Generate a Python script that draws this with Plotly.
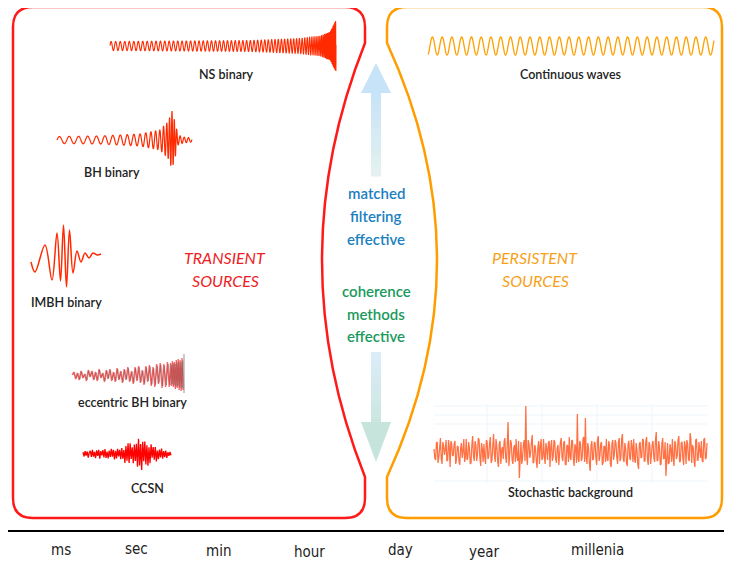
import numpy as np
import plotly.graph_objects as go

# ---------------- data ----------------
# NS binary chirp: instantaneous period and envelope (px) at key x positions
ns_x_keys = [110, 200, 260, 300, 320, 330, 336]
ns_period = [4.6, 4.2, 3.6, 2.8, 1.8, 1.0, 0.5]
ns_amp_x = [110, 250, 300, 320, 330, 334, 336]
ns_amp = [4.5, 5.5, 7.5, 10, 14, 22, 26]

# BH binary chirp + ringdown
bh_x_keys = [57, 100, 140, 160, 170, 175, 180, 192]
bh_period = [10, 8.5, 6, 4, 2.5, 2.2, 4, 4.5]
bh_amp_x = [57, 100, 140, 160, 168, 172, 175, 178, 183, 192]
bh_amp = [3.5, 4, 6, 10, 18, 29, 18, 5, 3, 2]

# IMBH binary extrema
imbh_x = [31, 35, 45, 52, 57, 60.5, 63.5, 66.5, 69.5, 73, 77, 81, 85, 89, 93, 97, 101]
imbh_y = [262, 272, 245, 280, 233, 281, 225, 287, 230, 273, 251, 262, 253, 258, 253, 255, 254]

# eccentric BH binary extrema offsets (px, positive = up)
ecc_vals = [0, 3, -4, 2, -5, 4, -3, 1, -6, 5, -2, 4, -5, 3, -6, 6, -3, 2, -7, 5,
            -4, 6, -6, 3, -7, 7, -5, 4, -8, 6, -5, 8, -7, 4, -9, 8, -6, 9, -8, 5,
            -10, 9, -7, 10, -11, 8, -12, 11, -9, 12, -13, 11, -12, 13, -12,
            12, -11, 14, -12, 13, -14, 15, -13, 16, -15, 15, -16, 17, -15]

# CCSN: noise samples and envelope
ccsn_noise = [0.6, -0.8, 0.9, -0.5, 0.7, -1.0, 0.4, 0.8, -0.7, 1.0, -0.6, 0.5, -0.9, 0.8, -0.4,
              0.9, -1.0, 0.6, -0.3, 0.8, -0.7, 1.0, -0.8, 0.5, -0.9, 0.7, -0.6, 1.0, -0.5, 0.8,
              -1.0, 0.6, -0.8, 0.9, -0.4, 0.7, -0.9, 1.0, -0.7, 0.5, -1.0, 0.8, -0.6, 0.9, -0.8,
              1.0, -0.5, 0.7, -1.0, 0.9, -0.6, 0.8, -0.9, 1.0, -0.7, 0.6, -1.0, 0.8, -0.5, 0.9,
              -0.8, 0.7, -1.0, 0.6, -0.9, 1.0, -0.4, 0.8, -0.7, 0.9, -1.0, 0.5, -0.8, 0.7, -0.6,
              1.0, -0.9, 0.6, -0.7, 0.8, -1.0, 0.5, -0.6, 0.7, -0.5]
ccsn_env_x = [83, 95, 110, 122, 128, 133, 140, 146, 152, 160, 171]
ccsn_env = [3, 4.5, 5, 6, 12, 9, 17, 13, 9, 6, 2.5]

# Continuous waves
cw_cycles = 29.3
cw_amp = 9

# Stochastic background samples (px, positive = up), two interleaved read-outs
stoch_a = [3, -8, 10, -5, 14, -12, 6, 2, -9, 12,
           -15, 8, -3, 11, -7, 5, -13, 9, 1, -10,
           13, -6, 4, -11, 16, -9, 7, -2, 12, -14,
           3, 8, -12, 10, -4, 15, -8, 18, -10, 6,
           -15, 11, 2, -7, 14, -11, 30, -3, 9, -12,
           7, 13, -9, -26, 10, -6, 12, 46, -13, 8,
           -1, 17, -10, 4, -16, 11, 6, -8, 13, -12,
           3, 9, -15, 12, -5, 10, -11, 7, -2, 14,
           -9, 11, -13, 6, 15, -8, 11, -14, 4, 38,
           -10, 8, -6, 15, 34, -12, 3, -19, 11, -7,
           9, -13, 16, -4, 10, -11, 5, 13, -9, 7,
           -15, 12, -2, 9, -12, 14, -6, 18, -10, 4,
           -14, 11, -8, 6, 13, -11, 2, -17, 10, -5,
           12, -9, 15, -13, 7, -3, 11, -10, 20, -8,
           5, -12, 14, -6, -24, 9, -11, 3, 13, -14,
           8, -4, 16, -9, 10, -13, 6, 12, -7, 19,
           -11, 4, -15, 13, -8, 2, 11, -10, 14, -6]
stoch_b = [-6, 9, -11, 4, -7, 10, -3, 12, -8, 5,
           11, -4, 8, -12, 6, -9, 3, -6, 13, -5,
           -8, 10, -12, 7, -4, 11, -9, 14, -6, 9,
           -10, -5, 12, -7, 9, -11, 6, -3, 13, -9,
           8, -12, 5, 10, -6, 9, -14, 12, -8, 4,
           -10, -5, 11, -7, -12, 8, -9, -4, 12, -6,
           10, -11, 7, -9, 5, -12, 13, -6, -4, 9,
           -8, 11, 5, -9, 12, -7, 4, -13, 10, -6,
           9, -12, 7, -10, -5, 12, -6, 8, -11, -7,
           11, -9, 13, -10, -6, 9, -12, 7, -8, 10,
           -6, 12, -9, 8, -13, 6, -10, -7, 11, -12,
           9, -8, 12, -6, 10, -9, 13, -7, 9, -11,
           8, -6, 12, -10, -7, 9, -12, 8, -6, 13,
           -9, 11, -7, 10, -12, 8, -6, 12, -9, 11,
           -13, 9, -7, 10, -8, -12, 8, -10, -6, 11,
           -7, 12, -10, 9, -6, 11, -12, 8, -9, 13,
           7, -10, 12, -8, 10, -6, -9, 12, -7, 9]

time_labels = ["ms", "sec", "min", "hour", "day", "year", "millenia"]

# ---------------- layout placements ----------------
# the page body has an 8px margin: draw a 724x555 figure whose axes start at 8
W, H = 732, 563
OFF = 8
RED = "#ff1a1a"
ORANGE = "#ff9d00"
WAVE_RED = "#ff2a00"
LABEL_FONT = "Lato, Open Sans, sans-serif"


def chirp(x0, x1, xk, per, ax, amp, y0, step=0.05):
    x = np.arange(x0, x1 + step, step)
    p = np.interp(x, xk, per)
    phase = np.cumsum(2 * np.pi * step / p)
    a = np.interp(x, ax, amp)
    return x, y0 - a * np.sin(phase)


def ln(color, width, **kw):
    return dict(color=color, width=width, simplify=False, **kw)


fig = go.Figure()

# faint grid behind stochastic background
grid_shapes = []
for gy in [406, 415, 424, 481]:
    grid_shapes.append(dict(type="line", x0=434, x1=707, y0=gy, y1=gy,
                            line=dict(color="#eef5fa", width=1), layer="below"))
for gx in [487, 542, 597, 652]:
    grid_shapes.append(dict(type="line", x0=gx, x1=gx, y0=404, y1=483,
                            line=dict(color="#eef5fa", width=1), layer="below"))

# NS binary
x, y = chirp(110, 336, ns_x_keys, ns_period, ns_amp_x, ns_amp, 46)
fig.add_trace(go.Scatter(x=x, y=y, mode="lines", line=ln(WAVE_RED, 1.1)))

# BH binary
x, y = chirp(57, 192, bh_x_keys, bh_period, bh_amp_x, bh_amp, 140)
fig.add_trace(go.Scatter(x=x, y=y, mode="lines", line=ln(WAVE_RED, 1.2)))

# IMBH binary
fig.add_trace(go.Scatter(x=imbh_x, y=imbh_y, mode="lines",
                         line=ln(WAVE_RED, 1.5, shape="spline", smoothing=1.0)))

# eccentric BH binary
n1 = 55
ecc_x = np.array(list(np.linspace(72, 169.2, n1)) +
                 list(np.linspace(170.5, 183, len(ecc_vals) - n1)))
ecc_y = 375 - np.array(ecc_vals)
fig.add_trace(go.Scatter(x=ecc_x, y=ecc_y, mode="lines", line=ln("#ff5f5f", 1.3)))
fig.add_trace(go.Scatter(x=ecc_x + 0.8, y=375 - 0.85 * np.array(ecc_vals), mode="lines",
                         line=ln("rgba(70,70,70,0.55)", 0.6)))
fig.add_trace(go.Scatter(x=[184, 184], y=[354, 393], mode="lines",
                         line=ln("rgba(90,90,90,0.8)", 0.8)))

# CCSN
cx = np.linspace(83, 171, len(ccsn_noise))
cy = 454 - np.interp(cx, ccsn_env_x, ccsn_env) * np.array(ccsn_noise)
fig.add_trace(go.Scatter(x=cx, y=cy, mode="lines", line=ln("#ff0000", 1.3)))

# Continuous waves
wx = np.linspace(428, 714, 2000)
wy = 46 - cw_amp * np.sin(2 * np.pi * cw_cycles * (wx - 428) / (714 - 428) - 0.4 * np.pi)
fig.add_trace(go.Scatter(x=wx, y=wy, mode="lines", line=ln("#ffa000", 1.3)))

# Stochastic background
stoch = [v for pair in zip(stoch_a, stoch_b) for v in pair]
sx = np.linspace(434, 707, len(stoch))
sy = 452 - np.array(stoch)
fig.add_trace(go.Scatter(x=sx, y=sy, mode="lines", line=ln("#ff7042", 1.25)))

# ---------------- shapes ----------------
shapes = list(grid_shapes)
red_path = ("M 33,7 L 345,7 Q 365,7 365,27 L 365,43 Q 279,260 365,477 L 365,498 "
            "Q 365,518 345,518 L 33,518 Q 13,518 13,498 L 13,27 Q 13,7 33,7 Z")
orange_path = ("M 407,7 L 703,7 Q 722,7 722,27 L 722,498 Q 722,518 703,518 L 407,518 "
               "Q 387,518 387,498 L 387,477 Q 487,260 387,43 L 387,27 Q 387,7 407,7 Z")
shapes.append(dict(type="path", path=red_path, line=dict(color=RED, width=2.5)))
shapes.append(dict(type="path", path=orange_path, line=dict(color=ORANGE, width=2.5)))
shapes.append(dict(type="line", x0=8, x1=732, y0=531, y1=531, line=dict(color="black", width=2)))


def lerp_color(c0, c1, t):
    a = [int(c0[i:i + 2], 16) for i in (1, 3, 5)]
    b = [int(c1[i:i + 2], 16) for i in (1, 3, 5)]
    return "rgb(%d,%d,%d)" % tuple(round(a[i] + (b[i] - a[i]) * t) for i in range(3))


# up arrow (gradient shaft)
n = 12
top, bot = 92, 176
for i in range(n):
    ya = top + (bot - top) * i / n
    yb = top + (bot - top) * (i + 1) / n + 0.5
    shapes.append(dict(type="rect", x0=371, x1=381, y0=ya, y1=yb, line=dict(width=0),
                       fillcolor=lerp_color("#c8e4f8", "#e4f1f0", i / (n - 1))))
shapes.append(dict(type="path", path="M 361,93 L 391,93 L 376,63 Z",
                   fillcolor="#c6e3f8", line=dict(width=0)))
# down arrow
top, bot = 352, 423
for i in range(n):
    ya = top + (bot - top) * i / n
    yb = top + (bot - top) * (i + 1) / n + 0.5
    shapes.append(dict(type="rect", x0=371, x1=381, y0=ya, y1=yb, line=dict(width=0),
                       fillcolor=lerp_color("#dcedf9", "#cbe6e0", i / (n - 1))))
shapes.append(dict(type="path", path="M 361,422 L 391,422 L 376,462 Z",
                   fillcolor="#c6e4dc", line=dict(width=0)))

# ---------------- annotations ----------------
ann = []


def label(txt, x, y, size=12.5, color="#222222", weight=600, style="normal", family=LABEL_FONT):
    ann.append(dict(text=txt, x=x, y=y, xref="x", yref="y", showarrow=False,
                    xanchor="center", yanchor="middle",
                    font=dict(family=family, size=size, color=color, weight=weight, style=style)))


label("NS binary", 226, 74)
label("BH binary", 112, 172)
label("IMBH binary", 66, 302)
label("eccentric BH binary", 132, 402)
label("CCSN", 147, 488)
label("Continuous waves", 571, 74)
label("Stochastic background", 570, 492)

for t, yy in zip(["TRANSIENT", "SOURCES"], [257, 280]):
    label(t, 225, yy, size=16, color="#ee1c24", weight=400, style="italic")
for t, yy in zip(["PERSISTENT", "SOURCES"], [257, 280]):
    label(t, 535, yy, size=16, color="#f7a11a", weight=400, style="italic")

for t, yy in zip(["matched", "filtering", "effective"], [193, 216, 239]):
    label(t, 376, yy, size=15, color="#1b7fc0", weight=600)
for t, yy in zip(["coherence", "methods", "effective"], [291, 314, 336]):
    label(t, 376, yy, size=15, color="#1a9a5c", weight=600)

time_x = [61, 136, 218, 309, 400, 484, 597]
time_y = [550, 549, 551, 552, 550, 552, 550]
for t, xx, yy in zip(time_labels, time_x, time_y):
    label(t, xx, yy, size=15, color="#222222", weight=400,
          family="Liberation Sans Narrow, DejaVu Sans Condensed, Arial Narrow, sans-serif")

fig.update_layout(
    width=W - OFF, height=H - OFF, margin=dict(l=0, r=0, t=0, b=0),
    paper_bgcolor="white", plot_bgcolor="white", showlegend=False,
    xaxis=dict(range=[OFF, W], visible=False, fixedrange=True),
    yaxis=dict(range=[H, OFF], visible=False, fixedrange=True),
    shapes=shapes, annotations=ann,
)

fig.write_html("out.html")
